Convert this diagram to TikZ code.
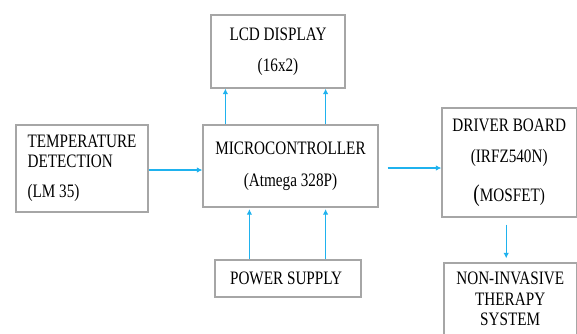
\documentclass[tikz,border=0pt]{standalone}
\usepackage{fontspec}
\setmainfont{Liberation Serif}[FakeStretch=0.8]
\usepackage{tikz}
\usetikzlibrary{arrows.meta,positioning,calc}
\definecolor{boxgray}{HTML}{A6A6A6}
\definecolor{arrblue}{HTML}{1FB2EE}

\begin{document}
\begin{tikzpicture}[
  x=1pt, y=-1pt,
  every node/.style={font=\fontsize{19}{20}\selectfont},
  block/.style={rectangle, draw=boxgray, line width=1.2pt, inner sep=0pt, align=center},
  arr/.style={-{Latex[length=5.5pt,width=5.5pt]}, line width=1.2pt, arrblue}
]
\useasboundingbox (0,0) rectangle (577,333);

% LCD display (top)
\node[block, minimum width=134pt, minimum height=73pt] (lcd) at (278, 51.5) {
  LCD DISPLAY\\[11pt]
  (16x2)
};

% Temperature sensor (left)
\node[block, align=left, minimum width=132pt, minimum height=87pt] (temp) at (82, 168.5) {
  TEMPERATURE\\
  DETECTION\\[10pt]
  (LM 35)
};

% Microcontroller (center)
\node[block, minimum width=175pt, minimum height=82pt] (micro) at (290.5, 166) {
  MICROCONTROLLER\\[11.7pt]
  (Atmega 328P)
};

% Power supply (bottom)
\node[block, minimum width=146pt, minimum height=37pt] (power) at (288, 278.5) {
  POWER SUPPLY
};

% Driver board (right)
\node[block, minimum width=134.4pt, minimum height=109pt] (driver) at (509.2, 162.5) {
  DRIVER BOARD\\[11.7pt]
  (IRFZ540N)\\[16.7pt]
  {\fontsize{24}{20}\selectfont(}MOSFET)
};

% Therapy system (bottom right)
\node[block, minimum width=132.4pt, minimum height=72pt] (therapy) at (510.2, 299) {
  NON-INVASIVE\\[1pt]
  THERAPY\\
  SYSTEM
};

% Arrows
\draw[arr] ([xshift=23pt]micro.north west) -- ([xshift=23pt]micro.north west |- lcd.south);
\draw[arr] ([xshift=-53pt]micro.north east) -- ([xshift=-53pt]micro.north east |- lcd.south);
\draw[arr] ([yshift=-1.5pt]temp.east) -- ([yshift=-1.5pt]temp.east -| micro.west);
\draw[arr, shorten <=9pt] ([yshift=-2pt]micro.east) -- ([yshift=-2pt]micro.east -| driver.west);
\draw[arr, shorten <=7pt, shorten >=4pt] ([xshift=-3pt]driver.south) -- ([xshift=-3pt]driver.south |- therapy.north);
\draw[arr, shorten >=1.5pt] ([xshift=47pt]micro.south west |- power.north) -- ([xshift=47pt]micro.south west);
\draw[arr, shorten >=1.5pt] ([xshift=-53pt]micro.south east |- power.north) -- ([xshift=-53pt]micro.south east);

\end{tikzpicture}
\end{document}
